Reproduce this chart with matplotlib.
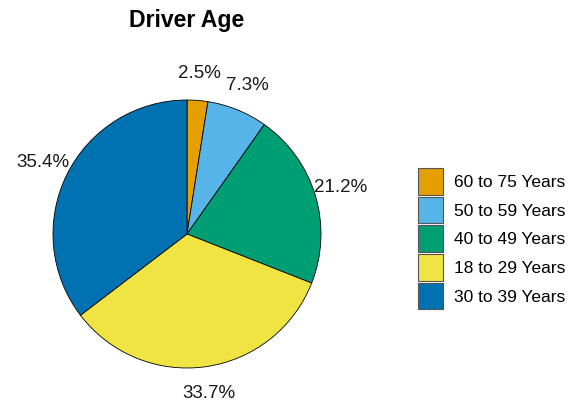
import matplotlib
matplotlib.use("Agg")
import matplotlib.pyplot as plt
from matplotlib.patches import Patch

plt.rcParams['font.family'] = ['Liberation Sans', 'DejaVu Sans']

categories = ["60 to 75 Years", "50 to 59 Years", "40 to 49 Years", "18 to 29 Years", "30 to 39 Years"]
values = [2.5, 7.3, 21.2, 33.7, 35.4]
colors = ["#E69F00", "#56B4E9", "#009E73", "#F0E442", "#0072B2"]

W, H = 577, 407
fig = plt.figure(figsize=(W/100, H/100), dpi=100)
ax = fig.add_axes([0, 0, 1, 1])
ax.axis('off')

cx, cy, R = 187, 234, 134
wedges, texts = ax.pie(values, colors=colors, startangle=90, counterclock=False,
                       labels=[f"{v:.1f}%" for v in values], labeldistance=1.2,
                       wedgeprops=dict(edgecolor='black', linewidth=0.6),
                       textprops=dict(fontsize=13.5, color='#1a1a1a'))
for t in texts:
    t.set_ha('center'); t.set_va('center')
ax.set_aspect('auto')
ax.set_xlim(-cx/R, (W-cx)/R)
ax.set_ylim(-(H-cy)/R, cy/R)

fig.text(cx/W, 1-20/H, "Driver Age", ha='center', va='center', fontsize=16.6, fontweight='bold')

fs = 12.5
handles = [Patch(facecolor=c, edgecolor='#555555', linewidth=0.8) for c in colors]
fig.legend(handles, categories, loc='upper left', bbox_to_anchor=(418/W, 1-168/H),
           frameon=False, borderpad=0, borderaxespad=0, fontsize=fs,
           handlelength=1.45, handleheight=1.98, labelspacing=0.12, handletextpad=0.62)

fig.savefig("out.png", dpi=100)
